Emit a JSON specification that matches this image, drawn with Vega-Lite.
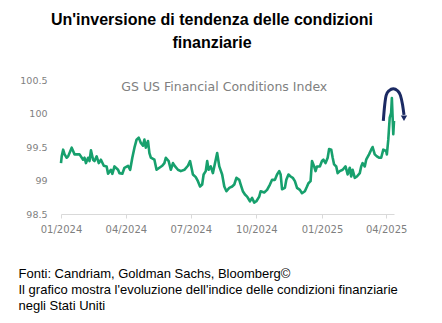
{
  "$schema": "https://vega.github.io/schema/vega-lite/v6.json",
  "width": 333,
  "height": 134,
  "autosize": {"type": "none"},
  "padding": {"left": 61, "top": 80, "right": 48, "bottom": 109},
  "background": "white",
  "config": {"view": {"stroke": null}},
  "title": {
    "text": ["Un'inversione di tendenza delle condizioni", "finanziarie"],
    "font": "Liberation Sans",
    "fontSize": 16,
    "fontWeight": "bold",
    "color": "#000000",
    "anchor": "middle",
    "dx": -15.5,
    "lineHeight": 23.5,
    "offset": 24
  },
  "datasets": {
    "fci": [
      {"date": "2024-01-01", "value": 99.26},
      {"date": "2024-01-02", "value": 99.36},
      {"date": "2024-01-04", "value": 99.46},
      {"date": "2024-01-06", "value": 99.39},
      {"date": "2024-01-09", "value": 99.34},
      {"date": "2024-01-11", "value": 99.36},
      {"date": "2024-01-16", "value": 99.49},
      {"date": "2024-01-20", "value": 99.39},
      {"date": "2024-01-27", "value": 99.39},
      {"date": "2024-02-01", "value": 99.31},
      {"date": "2024-02-03", "value": 99.34},
      {"date": "2024-02-05", "value": 99.26},
      {"date": "2024-02-08", "value": 99.34},
      {"date": "2024-02-10", "value": 99.29},
      {"date": "2024-02-12", "value": 99.45},
      {"date": "2024-02-15", "value": 99.31},
      {"date": "2024-02-17", "value": 99.29},
      {"date": "2024-02-20", "value": 99.36},
      {"date": "2024-02-23", "value": 99.26},
      {"date": "2024-02-26", "value": 99.31},
      {"date": "2024-03-01", "value": 99.22},
      {"date": "2024-03-05", "value": 99.21},
      {"date": "2024-03-07", "value": 99.10},
      {"date": "2024-03-11", "value": 99.16},
      {"date": "2024-03-13", "value": 99.10},
      {"date": "2024-03-16", "value": 99.21},
      {"date": "2024-03-21", "value": 99.16},
      {"date": "2024-03-23", "value": 99.11},
      {"date": "2024-03-27", "value": 99.10},
      {"date": "2024-03-30", "value": 99.19},
      {"date": "2024-04-04", "value": 99.22},
      {"date": "2024-04-07", "value": 99.16},
      {"date": "2024-04-10", "value": 99.34},
      {"date": "2024-04-13", "value": 99.49},
      {"date": "2024-04-16", "value": 99.61},
      {"date": "2024-04-19", "value": 99.64},
      {"date": "2024-04-22", "value": 99.56},
      {"date": "2024-04-25", "value": 99.52},
      {"date": "2024-04-27", "value": 99.61},
      {"date": "2024-04-29", "value": 99.49},
      {"date": "2024-05-02", "value": 99.59},
      {"date": "2024-05-04", "value": 99.41},
      {"date": "2024-05-06", "value": 99.34},
      {"date": "2024-05-11", "value": 99.31},
      {"date": "2024-05-14", "value": 99.16},
      {"date": "2024-05-18", "value": 99.19},
      {"date": "2024-05-22", "value": 99.22},
      {"date": "2024-05-25", "value": 99.26},
      {"date": "2024-05-27", "value": 99.34},
      {"date": "2024-05-31", "value": 99.29},
      {"date": "2024-06-03", "value": 99.16},
      {"date": "2024-06-06", "value": 99.26},
      {"date": "2024-06-09", "value": 99.21},
      {"date": "2024-06-13", "value": 99.16},
      {"date": "2024-06-17", "value": 99.14},
      {"date": "2024-06-22", "value": 99.16},
      {"date": "2024-06-27", "value": 99.22},
      {"date": "2024-06-30", "value": 99.29},
      {"date": "2024-07-04", "value": 99.09},
      {"date": "2024-07-08", "value": 99.05},
      {"date": "2024-07-11", "value": 98.99},
      {"date": "2024-07-14", "value": 98.91},
      {"date": "2024-07-17", "value": 98.94},
      {"date": "2024-07-19", "value": 99.09},
      {"date": "2024-07-22", "value": 99.14},
      {"date": "2024-07-24", "value": 99.29},
      {"date": "2024-07-26", "value": 99.16},
      {"date": "2024-07-29", "value": 99.21},
      {"date": "2024-08-01", "value": 99.11},
      {"date": "2024-08-05", "value": 99.31},
      {"date": "2024-08-07", "value": 99.41},
      {"date": "2024-08-10", "value": 99.21},
      {"date": "2024-08-14", "value": 99.09},
      {"date": "2024-08-17", "value": 98.91},
      {"date": "2024-08-20", "value": 98.84},
      {"date": "2024-08-24", "value": 98.89},
      {"date": "2024-08-28", "value": 98.91},
      {"date": "2024-08-31", "value": 98.94},
      {"date": "2024-09-03", "value": 99.04},
      {"date": "2024-09-07", "value": 99.01},
      {"date": "2024-09-09", "value": 98.94},
      {"date": "2024-09-12", "value": 98.84},
      {"date": "2024-09-15", "value": 98.79},
      {"date": "2024-09-18", "value": 98.76},
      {"date": "2024-09-22", "value": 98.69},
      {"date": "2024-09-25", "value": 98.74},
      {"date": "2024-09-28", "value": 98.67},
      {"date": "2024-10-01", "value": 98.69},
      {"date": "2024-10-05", "value": 98.76},
      {"date": "2024-10-07", "value": 98.84},
      {"date": "2024-10-12", "value": 98.82},
      {"date": "2024-10-16", "value": 98.86},
      {"date": "2024-10-20", "value": 98.94},
      {"date": "2024-10-23", "value": 99.01},
      {"date": "2024-10-27", "value": 99.01},
      {"date": "2024-10-30", "value": 99.09},
      {"date": "2024-11-02", "value": 99.14},
      {"date": "2024-11-04", "value": 99.09},
      {"date": "2024-11-06", "value": 98.87},
      {"date": "2024-11-10", "value": 98.89},
      {"date": "2024-11-12", "value": 99.01},
      {"date": "2024-11-15", "value": 99.09},
      {"date": "2024-11-18", "value": 99.06},
      {"date": "2024-11-21", "value": 99.04},
      {"date": "2024-11-24", "value": 98.99},
      {"date": "2024-11-27", "value": 98.89},
      {"date": "2024-12-01", "value": 98.86},
      {"date": "2024-12-04", "value": 98.81},
      {"date": "2024-12-08", "value": 98.84},
      {"date": "2024-12-11", "value": 98.91},
      {"date": "2024-12-13", "value": 98.96},
      {"date": "2024-12-16", "value": 98.99},
      {"date": "2024-12-18", "value": 99.29},
      {"date": "2024-12-21", "value": 99.21},
      {"date": "2024-12-23", "value": 99.14},
      {"date": "2024-12-25", "value": 99.21},
      {"date": "2024-12-29", "value": 99.21},
      {"date": "2025-01-01", "value": 99.29},
      {"date": "2025-01-03", "value": 99.31},
      {"date": "2025-01-06", "value": 99.26},
      {"date": "2025-01-09", "value": 99.34},
      {"date": "2025-01-11", "value": 99.47},
      {"date": "2025-01-14", "value": 99.46},
      {"date": "2025-01-16", "value": 99.34},
      {"date": "2025-01-18", "value": 99.24},
      {"date": "2025-01-21", "value": 99.21},
      {"date": "2025-01-23", "value": 99.11},
      {"date": "2025-01-26", "value": 99.14},
      {"date": "2025-01-30", "value": 99.16},
      {"date": "2025-02-03", "value": 99.21},
      {"date": "2025-02-06", "value": 99.09},
      {"date": "2025-02-09", "value": 99.19},
      {"date": "2025-02-11", "value": 99.06},
      {"date": "2025-02-13", "value": 99.16},
      {"date": "2025-02-16", "value": 99.04},
      {"date": "2025-02-19", "value": 99.06},
      {"date": "2025-02-23", "value": 99.11},
      {"date": "2025-02-25", "value": 99.21},
      {"date": "2025-02-27", "value": 99.26},
      {"date": "2025-03-02", "value": 99.21},
      {"date": "2025-03-04", "value": 99.31},
      {"date": "2025-03-08", "value": 99.39},
      {"date": "2025-03-11", "value": 99.46},
      {"date": "2025-03-13", "value": 99.50},
      {"date": "2025-03-16", "value": 99.39},
      {"date": "2025-03-19", "value": 99.36},
      {"date": "2025-03-22", "value": 99.34},
      {"date": "2025-03-25", "value": 99.34},
      {"date": "2025-03-28", "value": 99.46},
      {"date": "2025-04-01", "value": 99.44},
      {"date": "2025-04-02", "value": 99.39},
      {"date": "2025-04-04", "value": 99.61},
      {"date": "2025-04-06", "value": 99.94},
      {"date": "2025-04-08", "value": 100.01},
      {"date": "2025-04-09", "value": 100.23},
      {"date": "2025-04-10", "value": 99.96},
      {"date": "2025-04-11", "value": 99.69},
      {"date": "2025-04-12", "value": 99.89}
    ],
    "arc": [
      {"date": "2025-03-28", "value": 99.89},
      {"date": "2025-03-30", "value": 100.13},
      {"date": "2025-04-01", "value": 100.27},
      {"date": "2025-04-05", "value": 100.34},
      {"date": "2025-04-11", "value": 100.37},
      {"date": "2025-04-17", "value": 100.34},
      {"date": "2025-04-21", "value": 100.27},
      {"date": "2025-04-24", "value": 100.13},
      {"date": "2025-04-26", "value": 99.98}
    ],
    "arrowhead": [
      {"date": "2025-04-26", "value": 99.93}
    ],
    "label": [
      {"date": "2024-08-17", "value": 100.40, "text": "GS US Financial Conditions Index"}
    ]
  },
  "encoding": {
    "x": {
      "field": "date",
      "type": "temporal",
      "scale": {
        "type": "utc",
        "domain": [
          {"year": 2024, "month": 1, "date": 1, "utc": true},
          {"year": 2025, "month": 4, "date": 12, "utc": true}
        ]
      },
      "axis": {
        "values": [
          {"year": 2024, "month": 1, "date": 1, "utc": true},
          {"year": 2024, "month": 4, "date": 1, "utc": true},
          {"year": 2024, "month": 7, "date": 1, "utc": true},
          {"year": 2024, "month": 10, "date": 1, "utc": true},
          {"year": 2025, "month": 1, "date": 1, "utc": true},
          {"year": 2025, "month": 4, "date": 1, "utc": true}
        ],
        "labelExpr": "utcFormat(datum.value, '%m/%Y')",
        "grid": false,
        "domainColor": "#d9d9d9",
        "tickColor": "#d9d9d9",
        "tickSize": 4,
        "labelPadding": 6,
        "labelFont": "DejaVu Sans",
        "labelFontSize": 10,
        "labelColor": "#7f7f7f",
        "labelFlush": false,
        "title": [
          "Fonti: Candriam, Goldman Sachs, Bloomberg©",
          "Il grafico mostra l'evoluzione dell'indice delle condizioni finanziarie",
          "negli Stati Uniti"
        ],
        "titleFont": "Liberation Sans",
        "titleFontSize": 13,
        "titleFontWeight": "normal",
        "titleColor": "#000000",
        "titleAlign": "left",
        "titleAnchor": "start",
        "titleBaseline": "alphabetic",
        "titleLineHeight": 16,
        "titleX": -43,
        "titleY": 63.5
      }
    },
    "y": {
      "field": "value",
      "type": "quantitative",
      "scale": {"domain": [98.5, 100.5], "nice": false, "zero": false},
      "axis": {
        "values": [98.5, 99, 99.5, 100, 100.5],
        "format": ".1~f",
        "grid": false,
        "domain": false,
        "ticks": false,
        "labelPadding": 14,
        "labelFont": "DejaVu Sans",
        "labelFontSize": 9.5,
        "labelColor": "#7f7f7f",
        "title": null
      }
    }
  },
  "layer": [
    {
      "data": {"name": "fci"},
      "mark": {"type": "line", "color": "#17a06d", "strokeWidth": 2.6, "strokeJoin": "round"}
    },
    {
      "data": {"name": "arc"},
      "mark": {"type": "line", "color": "#1b2a63", "strokeWidth": 3, "interpolate": "monotone", "strokeCap": "butt"}
    },
    {
      "data": {"name": "arrowhead"},
      "mark": {"type": "point", "shape": "triangle-down", "filled": true, "color": "#1b2a63", "size": 40, "opacity": 1}
    },
    {
      "data": {"name": "label"},
      "mark": {"type": "text", "font": "DejaVu Sans", "fontSize": 12.5, "color": "#808080", "baseline": "middle", "align": "center"},
      "encoding": {"text": {"field": "text"}}
    }
  ]
}
